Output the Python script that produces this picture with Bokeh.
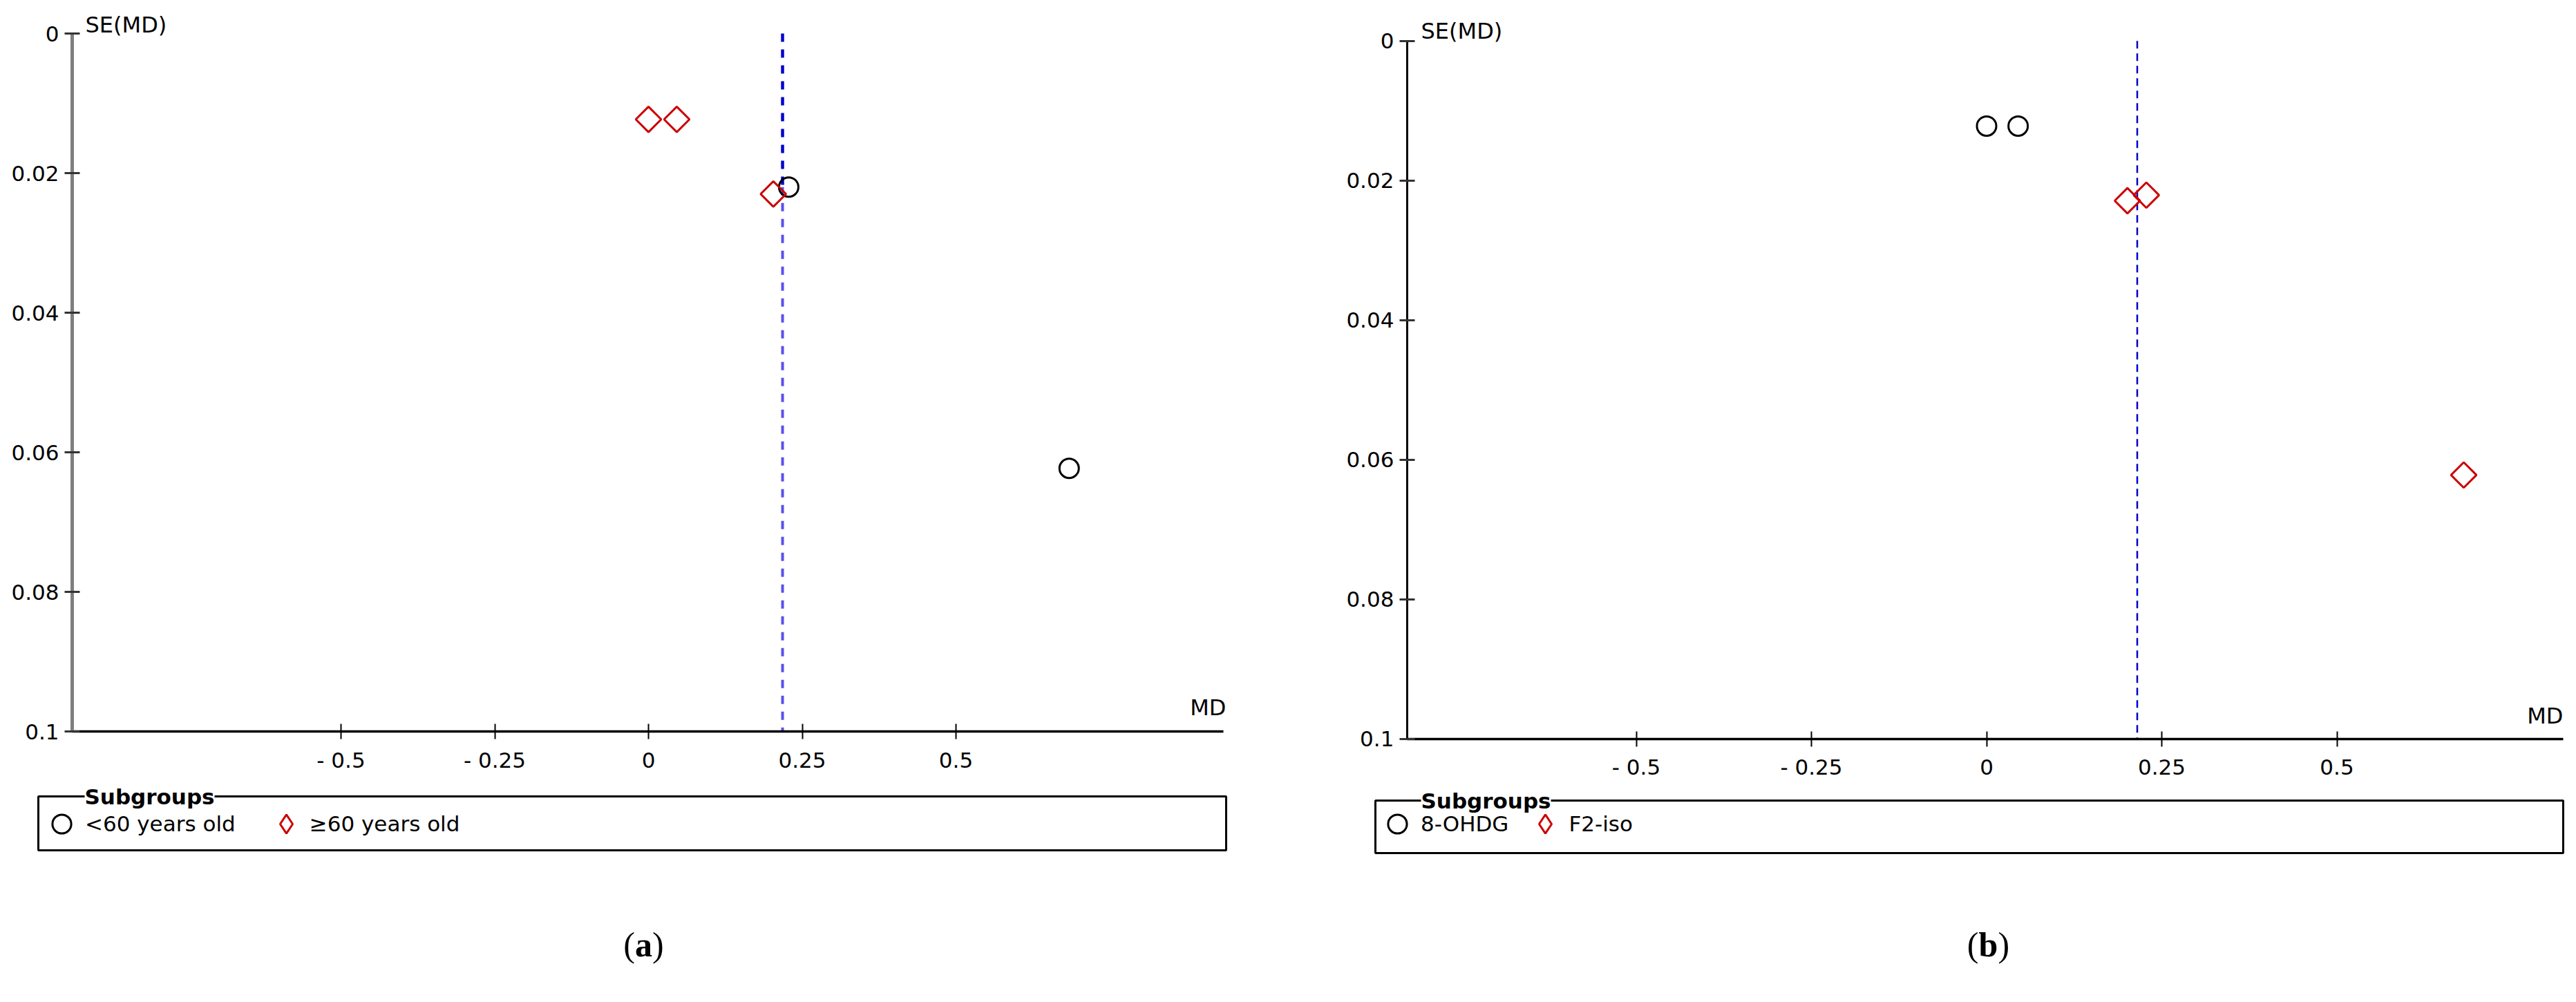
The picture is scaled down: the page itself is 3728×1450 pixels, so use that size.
import numpy as np
from bokeh.plotting import figure
from bokeh.models import (Range1d, LinearAxis, FixedTicker, Label, Legend,
                          LegendItem, BoxAnnotation, ColumnDataSource)
from bokeh.layouts import row
from bokeh.embed import file_html
from bokeh.resources import INLINE

# ---------------- data ----------------
# Panel (a): subgroups by age
a_lt60_md = [0.228, 0.684]
a_lt60_se = [0.0220, 0.0623]
a_ge60_md = [0.000, 0.046, 0.203]
a_ge60_se = [0.0123, 0.0123, 0.0230]
a_pooled_md = 0.218
a_labels = ["<60 years old", "≥60 years old"]

# Panel (b): subgroups by biomarker
b_ohdg_md = [0.000, 0.045]
b_ohdg_se = [0.0122, 0.0122]
b_f2_md = [0.201, 0.228, 0.681]
b_f2_se = [0.0229, 0.0221, 0.0622]
b_pooled_md = 0.215
b_labels = ["8-OHDG", "F2-iso"]

x_ticks = [-0.5, -0.25, 0, 0.25, 0.5]
x_tick_labels = ["- 0.5", "- 0.25", "0", "0.25", "0.5"]
y_ticks = [0, 0.02, 0.04, 0.06, 0.08, 0.1]
y_tick_labels = ["0", "0.02", "0.04", "0.06", "0.08", "0.1"]

# ---------------- layout constants (page pixels) ----------------
FIG_W, FIG_H = 1856, 1434
FONT = "DejaVu Sans"


def make_panel(circ_md, circ_se, dia_md, dia_se, pooled, labels, caption, g, split_line):
    px2x = lambda px: (px - g["x_zero"]) / g["kx"]
    py2y = lambda py: (py - g["y_zero"]) / g["ky"]
    left = g["fig_left"]
    p = figure(width=FIG_W, height=FIG_H, output_backend="svg", toolbar_location=None,
               x_range=Range1d(px2x(left), px2x(left + FIG_W)),
               y_range=Range1d(py2y(8 + FIG_H), py2y(8)),
               x_axis_type=None, y_axis_type=None, min_border=0,
               outline_line_color=None, background_fill_color="white",
               border_fill_color="white")

    xlim = g["xlim"]
    xaxis = LinearAxis(fixed_location=y_ticks[-1], bounds=xlim,
                       ticker=FixedTicker(ticks=x_ticks),
                       major_label_overrides={t: s for t, s in zip(x_ticks, x_tick_labels)},
                       axis_line_color="black", axis_line_width=3.5,
                       major_tick_line_color="black", major_tick_line_width=2,
                       major_tick_in=11, major_tick_out=11, minor_tick_line_color=None,
                       major_label_standoff=12, major_label_text_font=FONT,
                       major_label_text_font_size="31px", major_label_text_color="black")
    p.add_layout(xaxis, "below")
    yaxis = LinearAxis(fixed_location=xlim[0], bounds=(y_ticks[0], y_ticks[-1]),
                       ticker=FixedTicker(ticks=y_ticks),
                       major_label_overrides={t: s for t, s in zip(y_ticks, y_tick_labels)},
                       axis_line_color=g["yaxis_color"], axis_line_width=g["yaxis_width"],
                       major_tick_line_color="#333333", major_tick_line_width=3,
                       major_tick_in=11, major_tick_out=11, minor_tick_line_color=None,
                       major_label_standoff=8, major_label_text_font=FONT,
                       major_label_text_font_size="31px", major_label_text_color="black")
    p.add_layout(yaxis, "left")

    # pooled estimate (dashed vertical line)
    if split_line is not None:
        p.segment(x0=[pooled], y0=[y_ticks[0]], x1=[pooled], y1=[split_line],
                  line_color="#0000CC", line_width=4.5, line_dash="12 11")
        p.segment(x0=[pooled], y0=[split_line], x1=[pooled], y1=[y_ticks[-1]],
                  line_color="#5A50EE", line_width=4, line_dash="12 11")
    else:
        p.segment(x0=[pooled], y0=[y_ticks[0]], x1=[pooled], y1=[y_ticks[-1]],
                  line_color="#0000CC", line_width=2.5, line_dash="11 7")

    # studies
    csrc = ColumnDataSource(dict(md=circ_md, se=circ_se))
    dsrc = ColumnDataSource(dict(md=dia_md, se=dia_se))
    r_c = p.scatter("md", "se", source=csrc, marker="circle", size=28,
                    fill_color=None, line_color="black", line_width=3)
    p.scatter("md", "se", source=dsrc, marker="square", angle=np.pi / 4, size=26,
              fill_color=None, line_color="#CC0000", line_width=3)
    # legend glyph for the diamond subgroup (upright diamond marker)
    r_d_leg = p.scatter(x=[np.nan], y=[np.nan], marker="diamond", size=26,
                        fill_color=None, line_color="#CC0000", line_width=3)

    # axis titles
    p.add_layout(Label(x=px2x(g["se_left"]), y=py2y(g["se_cy"]), text="SE(MD)",
                       text_font=FONT, text_font_size="32px", text_baseline="middle",
                       text_align="left", text_color="black"))
    p.add_layout(Label(x=px2x(g["md_right"]), y=py2y(g["md_bottom"]), text="MD",
                       text_font=FONT, text_font_size="32px", text_baseline="bottom",
                       text_align="right", text_color="black"))

    # subgroup legend box
    bl, br, bt, bb = g["box"]
    p.add_layout(BoxAnnotation(left=px2x(bl), right=px2x(br), top=py2y(bt), bottom=py2y(bb),
                               fill_alpha=0, line_color="black", line_alpha=1.0,
                               line_width=3))
    p.add_layout(Label(x=px2x(g["sub_left"]), y=py2y(bt), text="Subgroups",
                       text_font=FONT, text_font_size="31px", text_font_style="bold",
                       text_baseline="middle", text_align="left", text_color="black",
                       background_fill_color="white"))
    legend = Legend(items=[LegendItem(label=labels[0], renderers=[r_c]),
                           LegendItem(label=labels[1], renderers=[r_d_leg])],
                    orientation="horizontal", location=g["leg_loc"],
                    glyph_width=68, glyph_height=68, label_standoff=0,
                    spacing=g["leg_spacing"], padding=0, margin=0,
                    border_line_alpha=0, background_fill_alpha=0,
                    label_text_font=FONT, label_text_font_size="31px",
                    label_text_color="black")
    p.add_layout(legend)

    # caption "(a)" / "(b)"
    cx, cy = px2x(g["cap_x"]), py2y(g["cap_y"])
    half = g["cap_half"]
    p.add_layout(Label(x=cx, y=cy, text="(", x_offset=-half, text_align="right",
                       text_baseline="middle", text_font="Liberation Serif",
                       text_font_size="50px", text_color="black"))
    p.add_layout(Label(x=cx, y=cy, text=caption, text_align="center",
                       text_baseline="middle", text_font="Liberation Serif",
                       text_font_size="50px", text_font_style="bold", text_color="black"))
    p.add_layout(Label(x=cx, y=cy, text=")", x_offset=half, text_align="left",
                       text_baseline="middle", text_font="Liberation Serif",
                       text_font_size="50px", text_color="black"))
    return p


geom_a = dict(fig_left=8, x_zero=946, kx=890, y_zero=56, ky=10100, xlim=(-0.937, 0.935),
              yaxis_color="#7F7F7F", yaxis_width=5,
              se_left=131, se_cy=43, md_right=1782, md_bottom=1050,
              box=(63, 1782, 1160, 1238), sub_left=130,
              leg_loc=(55, 208), leg_spacing=39,
              cap_x=939, cap_y=1374, cap_half=12.5)
geom_b = dict(fig_left=1864, x_zero=2882.5, kx=1014, y_zero=66.7, ky=10100,
              xlim=(-0.827, 0.823), yaxis_color="black", yaxis_width=3,
              se_left=2064, se_cy=52, md_right=3717, md_bottom=1062,
              box=(1998, 3717, 1166, 1242), sub_left=2064,
              leg_loc=(132, 208), leg_spacing=19,
              cap_x=2885, cap_y=1374, cap_half=14)

pa = make_panel(a_lt60_md, a_lt60_se, a_ge60_md, a_ge60_se, a_pooled_md, a_labels, "a",
                geom_a, a_lt60_se[0])
pb = make_panel(b_ohdg_md, b_ohdg_se, b_f2_md, b_f2_se, b_pooled_md, b_labels, "b",
                geom_b, None)

layout = row(pa, pb)
open("out.html", "w").write(file_html(layout, INLINE))
